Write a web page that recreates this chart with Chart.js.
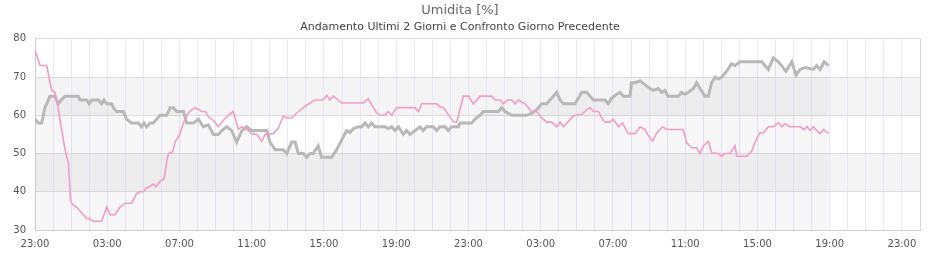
<!DOCTYPE html>
<html>
<head>
<meta charset="utf-8">
<script src="https://cdn.jsdelivr.net/npm/chart.js@4/dist/chart.umd.min.js"></script>
<style>
html,body{margin:0;padding:0;background:#fff;}
canvas{display:block;}
</style>
</head>
<body>
<canvas id="c" width="940" height="260"></canvas>
<script>
// hours elapsed since 23:00 of the first day
const tickLabels = ['23:00','03:00','07:00','11:00','15:00','19:00','23:00','03:00','07:00','11:00','15:00','19:00','23:00'];

const grayHours = [0,0.18,0.37,0.55,0.83,1.1,1.29,1.45,1.66,2.4,2.49,2.86,3.0,3.14,3.5,3.69,3.82,3.97,4.25,4.34,4.52,4.89,4.98,5.07,5.35,5.72,5.9,6.03,6.18,6.37,6.55,6.74,6.92,7.29,7.48,7.66,7.85,8.22,8.4,8.77,9.05,9.32,9.6,9.88,10.15,10.34,10.62,10.89,11.17,11.45,11.72,12.0,12.83,13.01,13.29,13.75,13.94,14.21,14.4,14.58,14.86,15.04,15.23,15.4,15.68,15.87,16.42,16.7,16.98,17.25,17.44,17.62,17.9,18.1,18.27,18.45,18.64,18.82,19.38,19.56,19.75,19.93,20.12,20.39,20.58,20.76,21.04,21.31,21.5,21.68,22.05,22.24,22.42,22.7,22.88,23.07,23.44,23.53,24.18,24.36,24.64,24.83,25.66,25.84,26.03,26.4,27.23,27.5,27.78,28.06,28.33,28.61,28.89,29.07,29.26,29.9,30.09,30.27,30.55,30.73,30.92,31.47,31.56,31.74,31.93,32.2,32.39,32.57,32.94,33.03,33.22,33.5,33.77,34.05,34.23,34.51,34.7,34.88,35.06,35.62,35.8,35.99,36.17,36.45,36.63,36.82,37.09,37.28,37.46,37.65,37.83,38.02,38.29,38.57,38.76,39.03,40.24,40.6,40.88,41.16,41.34,41.58,41.9,42.14,42.36,42.64,43.1,43.28,43.47,43.69,43.93];
const grayValues = [59,58,58,62,65,65,63,64,65,65,64,64,63,64,64,63,64,63,63,62,61,61,60,59,58,58,57,58,57,58,58,59,60,60,62,62,61,61,58,58,59,57,57.5,55,55,56,57,56,53,56,57,56,56,53,51,51,50,53,53,50,50,49,50,50,52,49,49,51,53.5,56,55.5,56.5,57,57,58,57,58,57,57,56.5,57,56,57,55,56,55,56,57,56,57,57,56,57,57,56,57,57,58,58,59,60,61,61,62,61,60,60,60.5,61.5,63,63,64.5,66,64,63,63,64.5,66,66,65,64,64,64,63,64.5,65.5,66,65,65,68.5,68.5,69,68,67,66.5,67,66,66.5,65,65,66,65.5,66,67,68.5,67,65,65,68.5,70,69.5,70,71.5,73.5,73,74,74,72,75,74,73,71.5,74,70.5,72,72.5,72,73,72,74,73];

const pinkHours = [0,0.28,0.65,0.92,1.11,1.29,1.66,1.85,1.97,2.12,2.31,2.58,2.86,3.0,3.23,3.69,3.97,4.15,4.43,4.71,4.98,5.35,5.63,5.81,6.0,6.18,6.4,6.55,6.7,6.92,7.15,7.3,7.39,7.63,7.75,7.99,8.22,8.4,8.58,8.86,9.05,9.23,9.42,9.6,9.88,10.15,10.43,10.71,10.98,11.26,11.45,11.72,12.0,12.28,12.55,12.74,13.2,13.48,13.75,13.94,14.21,14.49,14.86,15.22,15.5,15.96,16.15,16.33,16.52,16.7,16.98,18.18,18.45,18.64,18.92,19.1,19.38,19.56,19.75,20.02,21.04,21.22,21.41,22.24,22.42,22.61,22.88,23.16,23.35,23.53,23.72,24.0,24.27,24.64,25.29,25.47,25.75,25.93,26.15,26.4,26.58,26.76,27.13,27.32,27.5,27.78,28.06,28.33,28.61,28.89,29.07,29.26,29.53,29.81,30.09,30.27,30.55,30.73,30.92,31.19,31.38,31.56,31.83,32.02,32.3,32.53,32.85,33.22,33.5,33.77,33.96,34.2,34.42,34.75,34.97,35.89,36.08,36.36,36.63,36.82,37.0,37.28,37.46,37.83,38.02,38.2,38.48,38.76,38.85,39.4,39.68,39.87,40.14,40.33,40.6,40.88,41.16,41.34,41.53,41.77,42.36,42.58,42.76,42.91,43.1,43.28,43.47,43.65,43.93];
const pinkValues = [77,73,73,66.5,66,61.5,51,47.5,37.5,36.5,36,34.5,33,33,32.3,32.3,36,34,34,36,37,37,39.5,40,40,41,41.5,42,41.3,42.7,43.4,48,50,50.5,53,54.7,58,60,61,62,61.5,61,61,59.6,58.7,57,58.7,60,61,56.3,57,56.3,55.2,55,53.2,55,55.2,56.7,59.8,59.3,59.3,60.6,62,63.2,64,64,65.2,64,65,64.3,63.2,63.2,64.3,62.8,60.6,60,60,61,60,62,62,61,63,63,62.2,62,60.2,58.3,58.2,61.5,65,65,63,65,65,64,64,63,64,64,63,64,63,62,61,61,59.3,58.2,58.2,57,58.2,57,58.4,59.8,60.2,60.2,61.5,62,61,61,59.3,58.2,58.2,59,57,58,55.2,55.2,57,56.3,54.7,53.2,55.4,57,56.3,56.3,52.8,51.5,51.5,50,52,53.2,50.2,50,49.3,50,50,52,49.3,49.3,50.6,53,55.5,55.4,57,57,58,57,57.8,57,57,56.3,57,56,57,56,55.2,56.3,55.2];

const toPoints = (xs, ys) => xs.map((x, i) => ({x: x, y: ys[i]}));

const bandPlugin = {
  id: 'bands',
  beforeDraw(chart) {
    const {ctx, chartArea, scales} = chart;
    const y = scales.y;
    ctx.save();
    ctx.fillStyle = 'rgba(0,0,0,0.045)';
    [[40,50],[60,70]].forEach(([a,b]) => {
      const top = y.getPixelForValue(b), bot = y.getPixelForValue(a);
      ctx.fillRect(chartArea.left, top, chartArea.right - chartArea.left, bot - top);
    });
    ctx.restore();
  }
};

const FONT = 'DejaVu Sans';

new Chart(document.getElementById('c'), {
  type: 'line',
  data: {
    datasets: [
      {
        label: 'Giorno precedente',
        data: toPoints(pinkHours, pinkValues),
        borderColor: '#f39ac6',
        borderWidth: 1.6,
        pointRadius: 0,
        fill: false,
        tension: 0,
        order: 0
      },
      {
        label: 'Ultimi 2 giorni',
        data: toPoints(grayHours, grayValues),
        borderColor: '#b8b8b8',
        borderWidth: 3,
        pointRadius: 0,
        fill: 'start',
        backgroundColor: 'rgba(0,0,0,0.03)',
        tension: 0,
        order: 1
      }
    ]
  },
  options: {
    responsive: false,
    animation: false,
    devicePixelRatio: 1,
    layout: {padding: {left: 0, right: 20, top: 0, bottom: 0}},
    plugins: {
      legend: {display: false},
      tooltip: {enabled: false},
      title: {
        display: true,
        text: 'Umidita [%]',
        color: '#666',
        font: {family: FONT, size: 13, weight: 'normal'},
        padding: {top: 3, bottom: 2}
      },
      subtitle: {
        display: true,
        text: 'Andamento Ultimi 2 Giorni e Confronto Giorno Precedente',
        color: '#444',
        font: {family: FONT, size: 11, weight: 'normal'},
        padding: {top: 0, bottom: 5}
      }
    },
    scales: {
      x: {
        type: 'linear',
        min: 0,
        max: 49,
        afterFit: s => { s.height = 30; },
        ticks: {
          stepSize: 1,
          autoSkip: false,
          maxRotation: 0,
          padding: 8,
          color: '#555',
          font: {family: FONT, size: 10},
          callback: v => (v % 4 === 0 ? tickLabels[v / 4] : '')
        },
        grid: {
          drawTicks: false,
          color: c => (c.tick && c.tick.value === 49 ? '#d8d8d8' : '#e8e6f7')
        },
        border: {color: '#d0d0d0'}
      },
      y: {
        min: 30,
        max: 80,
        afterFit: s => { s.width = 35; },
        ticks: {
          stepSize: 10,
          padding: 9,
          color: '#555',
          font: {family: FONT, size: 10}
        },
        grid: {drawTicks: false, color: '#dcdcdc'},
        border: {color: '#d0d0d0'}
      }
    }
  },
  plugins: [bandPlugin]
});
</script>
</body>
</html>
